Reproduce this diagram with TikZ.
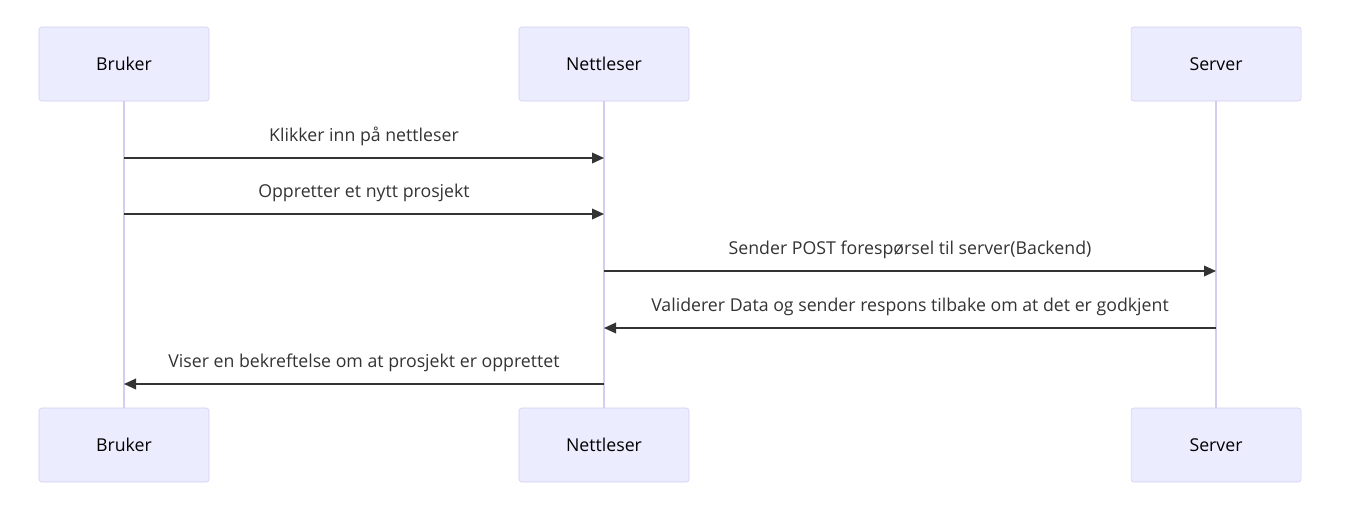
\documentclass[tikz,border=0pt]{standalone}
\usepackage{fontspec}
\setmainfont{Open Sans}
\usetikzlibrary{arrows.meta}
\definecolor{actorfill}{HTML}{ECECFF}
\definecolor{actorline}{HTML}{D4CCF2}
\definecolor{msgline}{HTML}{333333}
\begin{document}
\begin{tikzpicture}[x=0.75pt,y=-0.75pt,
  actor/.style={rectangle, draw=actorline, fill=actorfill, rounded corners=2pt, minimum width=127.5pt, minimum height=55.5pt, font=\fontsize{13.3}{15}\selectfont},
  lifeline/.style={draw=actorline, line width=1pt},
  msg/.style={draw=msgline, line width=1.1pt, -{Triangle[length=9pt,width=8pt]}},
  msglabel/.style={font=\fontsize{13.3}{15}\selectfont, text=msgline, inner sep=0pt}]
\useasboundingbox (0,0) rectangle (1358,522);
\node (bruker) [actor] at (124,64) {Bruker};
\node (nett) [actor] at (604,64) {Nettleser};
\node (server) [actor] at (1216,64) {Server};
\node (brukerB) [actor] at (124,445) {Bruker};
\node (nettB) [actor] at (604,445) {Nettleser};
\node (serverB) [actor] at (1216,445) {Server};

\draw [lifeline] (bruker) -- (brukerB);
\draw [lifeline] (nett) -- (nettB);
\draw [lifeline] (server) -- (serverB);

\coordinate (m1) at (0,158);
\coordinate (m2) at (0,214);
\coordinate (m3) at (0,271);
\coordinate (m4) at (0,328);
\coordinate (m5) at (0,384);

\draw [msg] (bruker |- m1) -- node[msglabel, above=8.5pt] (l1) {Klikker inn på nettleser} (nett |- m1);
\draw [msg] (bruker |- m2) -- node[msglabel, above=8.5pt] (l2) {Oppretter et nytt prosjekt} (nett |- m2);
\draw [msg] (nett |- m3) -- node[msglabel, above=8.5pt] (l3) {Sender POST forespørsel til server(Backend)} (server |- m3);
\draw [msg] (server |- m4) -- node[msglabel, above=8.5pt] (l4) {Validerer Data og sender respons tilbake om at det er godkjent} (nett |- m4);
\draw [msg] (nett |- m5) -- node[msglabel, above=8.5pt] (l5) {Viser en bekreftelse om at prosjekt er opprettet} (bruker |- m5);
\end{tikzpicture}
\end{document}
